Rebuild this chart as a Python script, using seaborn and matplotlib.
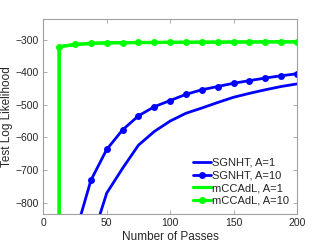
import numpy as np
import pandas as pd
import matplotlib.pyplot as plt
import seaborn as sns

# ---- data ----
passes = [12.5, 25, 37.5, 50, 62.5, 75, 87.5, 100, 112.5, 125, 137.5, 150,
          162.5, 175, 187.5, 200]
sgnht_a1 = [-1400, -1100, -924, -771, -695, -624, -582, -550, -526, -510,
            -493, -477, -465, -454, -444, -436]
sgnht_a10 = [-1200, -900, -732, -637, -577, -534, -506, -487, -468, -454,
             -444, -434, -426, -418, -411, -405]
# mCCAdL starts with a first (very low) evaluation at the same pass count
mccadl_passes = [12.5] + passes
mccadl_a1 = [-2000, -322, -315, -312, -310, -309.5, -309, -309, -308.5,
             -308.5, -308, -308, -307.5, -307.5, -307, -307, -307]
mccadl_a10 = [-2000, -322, -315, -312, -310, -309.5, -309, -309, -308.5,
              -308.5, -308, -308, -307.5, -307.5, -307, -307, -307]

sns.set_theme(style="white")
plt.rcParams['font.family'] = ['Liberation Sans', 'DejaVu Sans']
plt.rcParams['font.size'] = 7.5

fig = plt.figure(figsize=(3.29, 2.47), dpi=100)
ax = fig.add_axes([0.1316, 0.1324, 0.7711, 0.7919])

blue = (0, 0, 1)
green = (0, 1, 0)

sns.lineplot(x=passes, y=sgnht_a1, ax=ax, color=blue, lw=2,
             estimator=None, sort=False, label='SGNHT, A=1')
sns.lineplot(x=passes, y=sgnht_a10, ax=ax, color=blue, lw=2, marker='o',
             markersize=5, markeredgewidth=0, estimator=None, sort=False,
             label='SGNHT, A=10')
sns.lineplot(x=mccadl_passes, y=mccadl_a1, ax=ax, color=green, lw=2.3,
             estimator=None, sort=False, label='mCCAdL, A=1')
sns.lineplot(x=mccadl_passes, y=mccadl_a10, ax=ax, color=green, lw=2.3,
             marker='o', markersize=5, markeredgewidth=0, estimator=None,
             sort=False, label='mCCAdL, A=10')

ax.set_xlim(0, 200)
ax.set_ylim(-836, -236)
ax.set_xticks([0, 50, 100, 150, 200])
ax.set_yticks([-800, -700, -600, -500, -400, -300])
ax.set_xlabel('Number of Passes', fontsize=8.5, color='#262626', labelpad=2)
ax.set_ylabel('Test Log Likelihood', fontsize=8.5, color='#262626', labelpad=2)

for side in ax.spines.values():
    side.set_color('#a0a0a0')
    side.set_linewidth(0.8)
ax.tick_params(direction='in', length=3, width=0.6, color='#a0a0a0',
               labelcolor='#262626', labelsize=7.5, top=True, right=True,
               bottom=True, left=True, pad=3)

leg = ax.legend(loc='lower right', frameon=False, fontsize=8,
                handlelength=1.6, handletextpad=0.1, labelspacing=0.25,
                borderaxespad=0.35)

plt.savefig('out.png', dpi=100)
plt.close()
